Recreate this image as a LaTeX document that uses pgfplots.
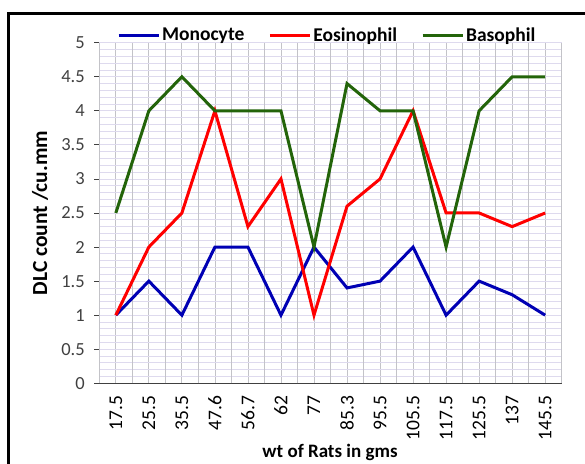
\documentclass[border=0pt]{standalone}
\usepackage{pgfplots}
\pgfplotsset{compat=1.18}
\usepackage{fontspec}
\setmainfont{Carlito}
\definecolor{mono}{RGB}{0,0,180}
\definecolor{eos}{RGB}{255,0,0}
\definecolor{baso}{RGB}{35,100,10}
\definecolor{vgrid}{RGB}{195,195,200}
\definecolor{hgrid}{RGB}{222,218,238}
\definecolor{ticktext}{RGB}{64,64,64}
\begin{document}
\begin{tikzpicture}[x=1pt,y=1pt]
\begin{scope}
\clip (0,0) rectangle (585,463);
\draw[line width=2.5pt] (8.7,-20) -- (8.7,449.5) -- (600,449.5);
\end{scope}
\begin{axis}[
  at={(99.3pt,79.7pt)}, anchor=south west,
  scale only axis, width=462.4pt, height=340.6pt,
  xmin=-0.5, xmax=13.5, ymin=0, ymax=5,
  axis x line*=bottom, axis y line*=left,
  axis line style={black!75, line width=0.8pt},
  xtick={0,...,13},
  xticklabels={17.5,25.5,35.5,47.6,56.7,62,77,85.3,95.5,105.5,117.5,125.5,137,145.5},
  x tick label style={rotate=90, anchor=east, font=\fontsize{19.5}{21}\selectfont, text=black, xshift=-4pt},
  major x tick style={draw=none},
  extra x ticks={-0.5,0.5,...,13.5},
  extra x tick labels={},
  extra x tick style={grid=major, tick style={draw=black!75, line width=0.8pt}, major tick length=5pt},
  ytick={0,0.5,...,5},
  yticklabels={0,0.5,1,1.5,2,2.5,3,3.5,4,4.5,5},
  y tick label style={font=\fontsize{18.5}{20}\selectfont, text=ticktext, xshift=-6pt},
  minor y tick num=4,
  ymajorgrids, yminorgrids, xmajorgrids,
  tick align=outside,
  major tick length=5pt,
  minor tick length=0pt,
  y tick style={black!75, line width=0.8pt},
  x grid style={vgrid, line width=0.8pt},
  y grid style={hgrid, line width=0.8pt},
  minor y grid style={hgrid, line width=0.8pt},
  /pgf/number format/assume math mode=true,
  xlabel={\textbf{wt of Rats in gms}},
  ylabel={\textbf{DLC count /cu.mm}},
  x label style={at={(axis description cs:0.499,-0.2035)}, anchor=center, font=\fontsize{19}{21}\selectfont},
  y label style={at={(axis description cs:-0.128,0.5)}, anchor=center, rotate=0, font=\fontsize{21.5}{23}\selectfont},
  legend columns=3,
  legend style={at={(axis description cs:0.493,1.022)}, anchor=center, draw=none, fill=none,
    font=\fontsize{19.5}{21}\selectfont\bfseries, /tikz/every even column/.append style={column sep=22pt},
    /tikz/every odd column/.append style={column sep=0pt}},
  legend image code/.code={\draw[#1, line width=3pt] (0pt,0pt) -- (40pt,0pt);},
  clip=false,
]
\addplot[mono, line width=3pt] coordinates {(0,1) (1,1.5) (2,1) (3,2) (4,2) (5,1) (6,2) (7,1.4) (8,1.5) (9,2) (10,1) (11,1.5) (12,1.3) (13,1)};
\addlegendentry{Monocyte}
\addplot[eos, line width=3pt] coordinates {(0,1) (1,2) (2,2.5) (3,4) (4,2.3) (5,3) (6,1) (7,2.6) (8,3) (9,4) (10,2.5) (11,2.5) (12,2.3) (13,2.5)};
\addlegendentry{Eosinophil}
\addplot[baso, line width=3pt] coordinates {(0,2.5) (1,4) (2,4.5) (3,4) (4,4) (5,4) (6,2) (7,4.4) (8,4) (9,4) (10,2) (11,4) (12,4.5) (13,4.5)};
\addlegendentry{Basophil}
\end{axis}
\pgfresetboundingbox
\useasboundingbox (0,0) rectangle (585,463);
\end{tikzpicture}
\end{document}
